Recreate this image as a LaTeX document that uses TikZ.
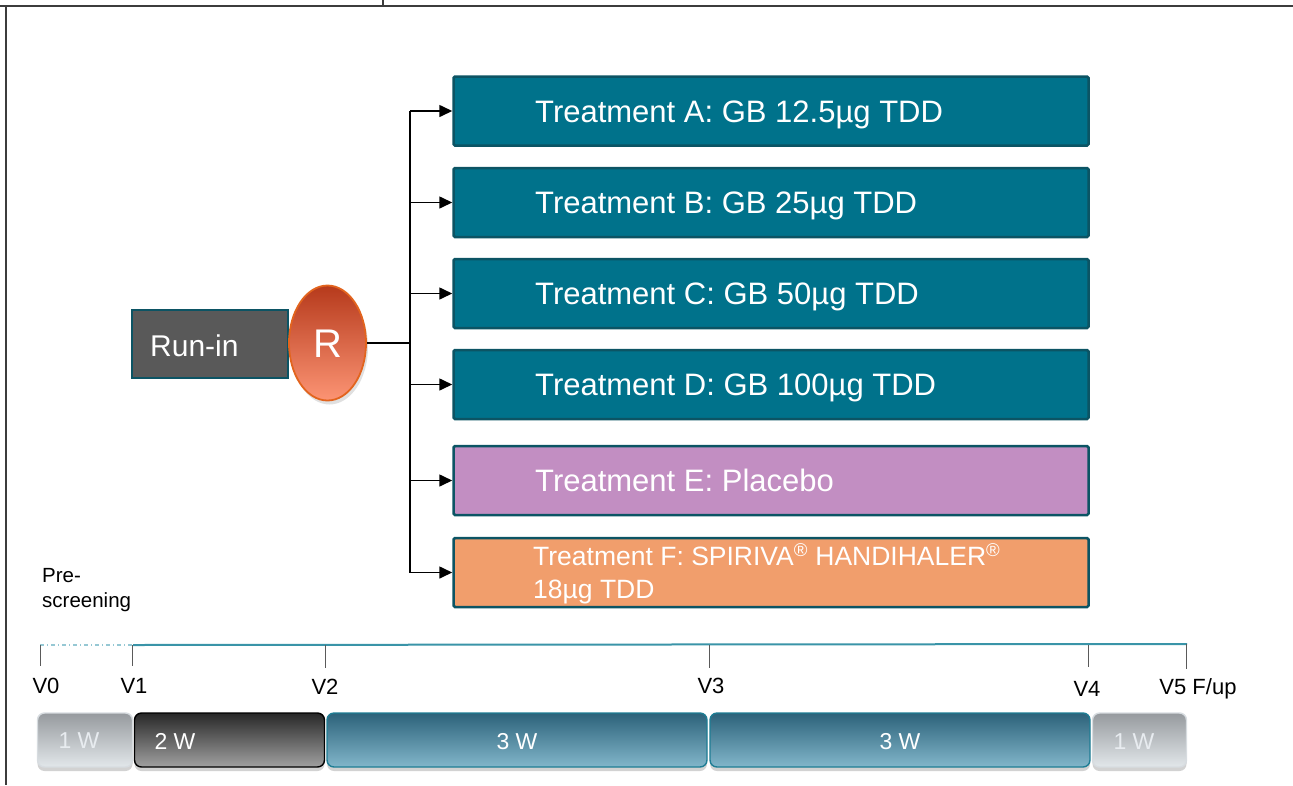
\documentclass[tikz,border=0pt]{standalone}
\usepackage{fontspec}
\setmainfont{Liberation Sans}
\usetikzlibrary{shapes.geometric,arrows.meta,shadows}
\definecolor{tealfill}{RGB}{0,114,139}
\definecolor{tealedge}{RGB}{12,84,100}
\definecolor{plfill}{RGB}{194,142,194}
\definecolor{orfill}{RGB}{241,158,108}
\definecolor{runfill}{RGB}{89,89,89}
\definecolor{framec}{RGB}{60,60,60}
\definecolor{tline}{RGB}{58,148,168}
\definecolor{tdot}{RGB}{150,200,212}
\definecolor{tickc}{RGB}{90,90,90}
\tikzset{
  tbox/.style={draw=tealedge, line width=2.5pt, rounded corners=1.5pt, minimum width=635pt, minimum height=69pt, inner sep=0pt},
  tlabel/.style={text=white, anchor=base west, inner sep=0pt, font=\fontsize{31}{35}\selectfont},
  arr/.style={line width=1.6pt, -{Triangle[length=13pt,width=12pt]}},
  conn/.style={line width=1.6pt},
  vlabel/.style={font=\fontsize{22}{26}\selectfont, inner sep=0pt},
  tick/.style={draw=tickc, line width=0.8pt},
  bar/.style={rounded corners=7pt, line width=1.4pt, minimum height=54pt, inner sep=0pt,
     drop shadow={shadow xshift=0pt, shadow yshift=-4pt, opacity=0.25, fill=black!70}},
  graybar/.style={bar, top color={rgb,255:red,150;green,154;blue,158}, bottom color={rgb,255:red,226;green,231;blue,234}, draw={rgb,255:red,215;green,220;blue,224}},
  darkbar/.style={bar, top color={rgb,255:red,40;green,40;blue,40}, bottom color={rgb,255:red,160;green,160;blue,160}, draw=black},
  tealbar/.style={bar, top color={rgb,255:red,44;green,98;blue,122}, bottom color={rgb,255:red,130;green,182;blue,202}, draw={rgb,255:red,30;green,125;blue,148}},
  bartext/.style={font=\fontsize{23}{26}\selectfont, inner sep=0pt},
}
\begin{document}
\begin{tikzpicture}[x=1pt,y=-1pt]
\useasboundingbox (0,0) rectangle (1293,785);
% frame
\coordinate (f1) at (0,6);
\coordinate (f2) at (1293,6);
\coordinate (f3) at (383,0);
\coordinate (f4) at (383,6);
\coordinate (f5) at (6,6);
\coordinate (f6) at (6,785);
\draw[framec, line width=2pt] (f1) -- (f2);
\draw[framec, line width=1.2pt] (f3) -- (f4);
\draw[framec, line width=1.5pt] (f5) -- (f6);

% treatment boxes
\node[tbox, fill=tealfill] (A) at (771,111) {};
\node[tbox, fill=tealfill] (B) at (771,202.5) {};
\node[tbox, fill=tealfill] (C) at (771,293.5) {};
\node[tbox, fill=tealfill] (D) at (771,384.5) {};
\node[tbox, fill=plfill] (E) at (771,480.5) {};
\node[tbox, fill=orfill] (F) at (771,572.5) {};

\node[tlabel] (Atx) at (535,122) {Treatment A: GB 12.5µg TDD};
\node[tlabel] (Btx) at (535,213.5) {Treatment B: GB 25µg TDD};
\node[tlabel] (Ctx) at (535,304.5) {Treatment C: GB 50µg TDD};
\node[tlabel] (Dtx) at (535,395.5) {Treatment D: GB 100µg TDD};
\node[tlabel] (Etx) at (535,491.5) {Treatment E: Placebo};
\node[text=white, anchor=west, inner sep=0pt, font=\fontsize{26.5}{33}\selectfont, align=left] (Ftx) at (533,574) {Treatment F: SPIRIVA\textsuperscript{®} HANDIHALER\textsuperscript{®}\\18µg TDD};

% run-in and R
\node[draw=tealedge, line width=2.5pt, fill=runfill, minimum width=156pt, minimum height=68pt, inner sep=0pt] (run) at (210,344) {};
\node[text=white, anchor=base west, inner sep=0pt, font=\fontsize{30}{34}\selectfont] (runtx) at (150,356) {Run-in};
\node[ellipse, minimum width=77pt, minimum height=115pt, inner sep=0pt, line width=1.8pt,
      draw={rgb,255:red,226;green,100;blue,30},
      top color={rgb,255:red,182;green,58;blue,28}, bottom color={rgb,255:red,252;green,148;blue,116},
      drop shadow={shadow xshift=2pt, shadow yshift=-4pt, opacity=0.2, fill=black!60}] (R) at (327.5,343) {};
\node[text=white, inner sep=0pt, font=\fontsize{40}{44}\selectfont] (Rtx) at (327.5,344) {R};

% connectors
\coordinate (j) at (410,343);
\draw[conn] (R.east) -- (j);
\draw[conn] (A.west -| j) -- (F.west -| j);
\foreach \n in {A,B,C,D,E,F}{
  \draw[arr] (\n.west -| j) -- (\n.west);
}

% pre-screening
\node[anchor=north west, align=left, inner sep=0pt, font=\fontsize{20.5}{25}\selectfont] (pre) at (42,568) {Pre-\\screening};

% timeline
\coordinate (t0) at (40,645);
\coordinate (t1) at (133,645);
\coordinate (t5) at (1187,644);
\draw[tdot, line width=1.2pt, dash pattern=on 4pt off 3pt on 1pt off 3pt] (t0) -- (t1);
\draw[tline, line width=2pt] (t1) -- (t5);
\coordinate (k0) at (40,666);
\coordinate (k1) at (132,666);
\coordinate (k2) at (325,668);
\coordinate (k3) at (709,668);
\coordinate (k4) at (1088,667);
\coordinate (k5) at (1186,669);
\coordinate (u0) at (40,645);
\coordinate (u1) at (132,645);
\coordinate (u2) at (325,645);
\coordinate (u3) at (709,645);
\coordinate (u4) at (1088,645);
\coordinate (u5) at (1186,644);
\draw[tick] (u0) -- (k0);
\draw[tick] (u1) -- (k1);
\draw[tick] (u2) -- (k2);
\draw[tick] (u3) -- (k3);
\draw[tick] (u4) -- (k4);
\draw[tick] (u5) -- (k5);
\node[vlabel] (V0) at (46,686) {V0};
\node[vlabel] (V1) at (134,686) {V1};
\node[vlabel] (V2) at (325,687) {V2};
\node[vlabel] (V3) at (711,686) {V3};
\node[vlabel] (V4) at (1087,689) {V4};
\node[vlabel] (V5) at (1198,689) {V5 F/up};

% bars
\node[graybar, minimum width=95pt] (b1) at (85,740) {};
\node[darkbar, minimum width=190pt] (b2) at (229.5,740) {};
\node[tealbar, minimum width=380pt] (b3) at (517,740) {};
\node[tealbar, minimum width=380pt] (b4) at (900,740) {};
\node[graybar, minimum width=94pt] (b5) at (1139.5,740) {};
\node[bartext, text={rgb,255:red,232;green,236;blue,240}] (b1t) at (79,741) {1 W};
\node[bartext, text=white] (b2t) at (175,741) {2 W};
\node[bartext, text=white] (b3t) at (517,742) {3 W};
\node[bartext, text=white] (b4t) at (900,742) {3 W};
\node[bartext, text={rgb,255:red,232;green,236;blue,240}] (b5t) at (1134,742) {1 W};
\end{tikzpicture}
\end{document}
